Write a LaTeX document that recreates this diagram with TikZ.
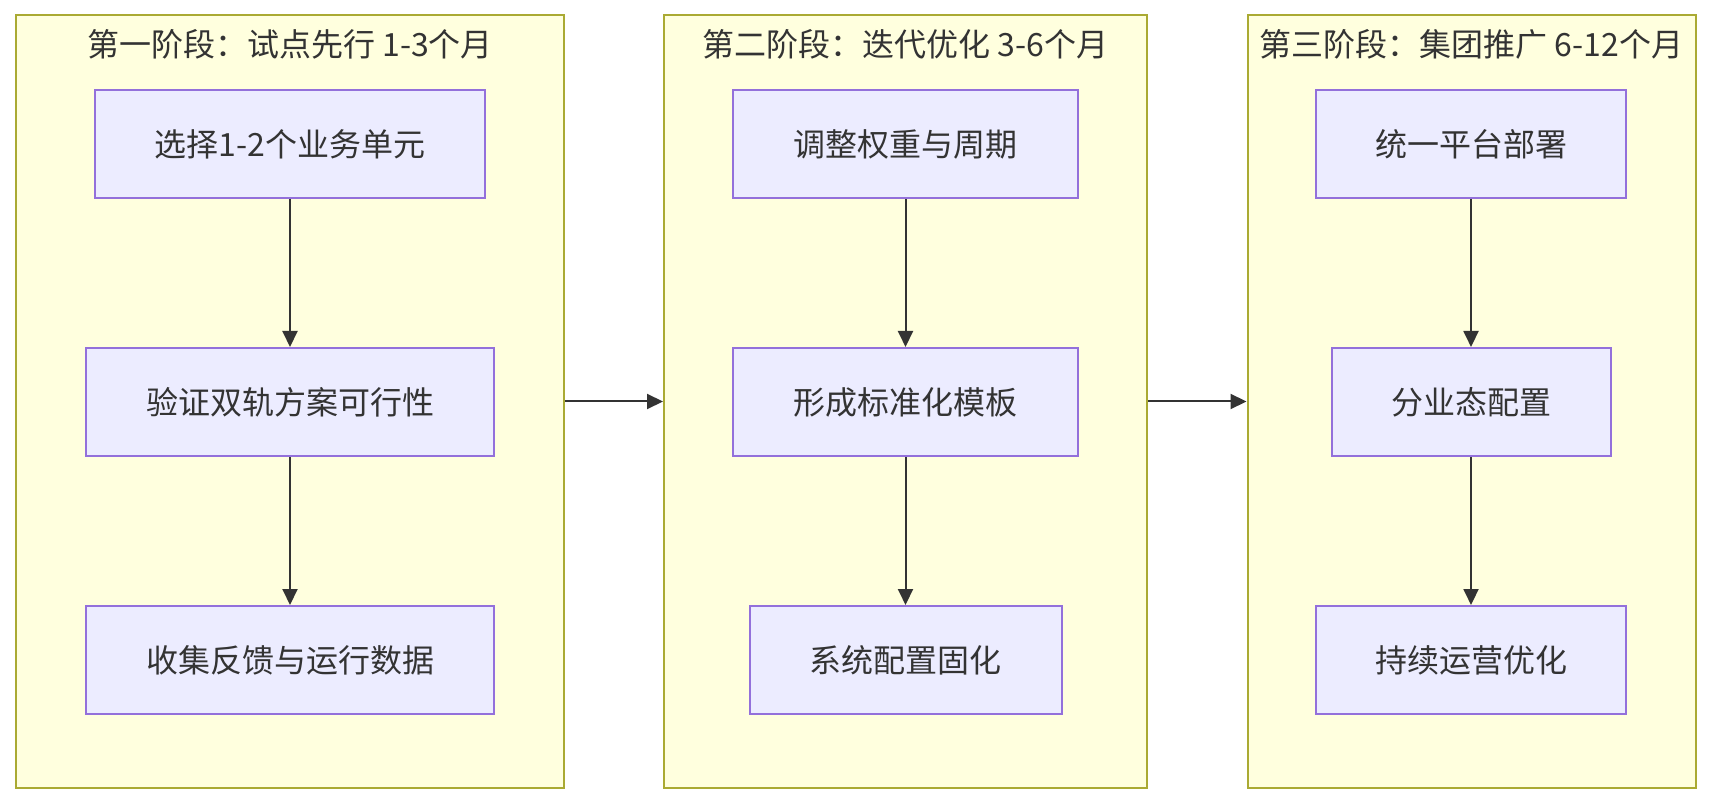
\documentclass[tikz,border=0pt]{standalone}
\usepackage{fontspec}
\setmainfont{Noto Sans CJK SC}
\usepackage{tikz}
\usetikzlibrary{arrows.meta,positioning}

\definecolor{phasefill}{HTML}{FFFFDE}
\definecolor{phaseedge}{HTML}{AAAA33}
\definecolor{stepfill}{HTML}{ECECFF}
\definecolor{stepedge}{HTML}{9370DB}
\definecolor{inkgray}{HTML}{333333}

\begin{document}
\begin{tikzpicture}[x=0.5pt, y=-0.5pt,
    % --- Phase (cluster) styles ---
    phase/.style={draw=phaseedge, fill=phasefill, line width=1pt,
                  minimum height=386.5pt, inner sep=0pt},
    phase title/.style={font=\fontsize{16}{19}\selectfont, text=inkgray, inner sep=0pt},
    % --- Step box styles ---
    step box/.style={draw=stepedge, fill=stepfill, line width=1pt,
                     minimum height=54pt, inner sep=0pt,
                     font=\fontsize{16}{19}\selectfont, text=inkgray},
    % --- Connector style ---
    flow/.style={-{Triangle[length=8pt,width=7.5pt]}, line width=1pt, draw=inkgray},
]
\useasboundingbox (0,0) rectangle (1716,806);

% ============================================================
% Phase boxes and their titles
% ============================================================
\node[phase, minimum width=274pt]   (P1) at ( 290,   401.5) {};
\node[phase, minimum width=241.5pt] (P2) at ( 905.5, 401.5) {};
\node[phase, minimum width=224pt]   (P3) at (1471.5, 401.5) {};

\node[phase title] (T1) at ( 290,   44) {第一阶段：试点先行 1-3个月};
\node[phase title] (T2) at ( 905.5, 44) {第二阶段：迭代优化 3-6个月};
\node[phase title] (T3) at (1471.5, 44) {第三阶段：集团推广 6-12个月};

% ============================================================
% Steps of each phase
% ============================================================
% --- Phase 1 ---
\node[step box, minimum width=195pt] (A1) at (290, 144) {选择1-2个业务单元};
\node[step box, minimum width=204pt] (A2) at (290, 402) {验证双轨方案可行性};
\node[step box, minimum width=204pt] (A3) at (290, 660) {收集反馈与运行数据};

% --- Phase 2 ---
\node[step box, minimum width=172.5pt] (B1) at (905.5, 144) {调整权重与周期};
\node[step box, minimum width=172.5pt] (B2) at (905.5, 402) {形成标准化模板};
\node[step box, minimum width=156pt]   (B3) at (905.5, 660) {系统配置固化};

% --- Phase 3 ---
\node[step box, minimum width=155pt]   (C1) at (1471, 144) {统一平台部署};
\node[step box, minimum width=139.5pt] (C2) at (1471, 402) {分业态配置};
\node[step box, minimum width=155pt]   (C3) at (1471, 660) {持续运营优化};

% ============================================================
% Connectors
% ============================================================
\foreach \a/\b in {A1/A2, A2/A3, B1/B2, B2/B3, C1/C2, C2/C3}
  \draw[flow] (\a) -- (\b);

% Phase to phase
\draw[flow] (P1) -- (P2);
\draw[flow] (P2) -- (P3);

\end{tikzpicture}
\end{document}
